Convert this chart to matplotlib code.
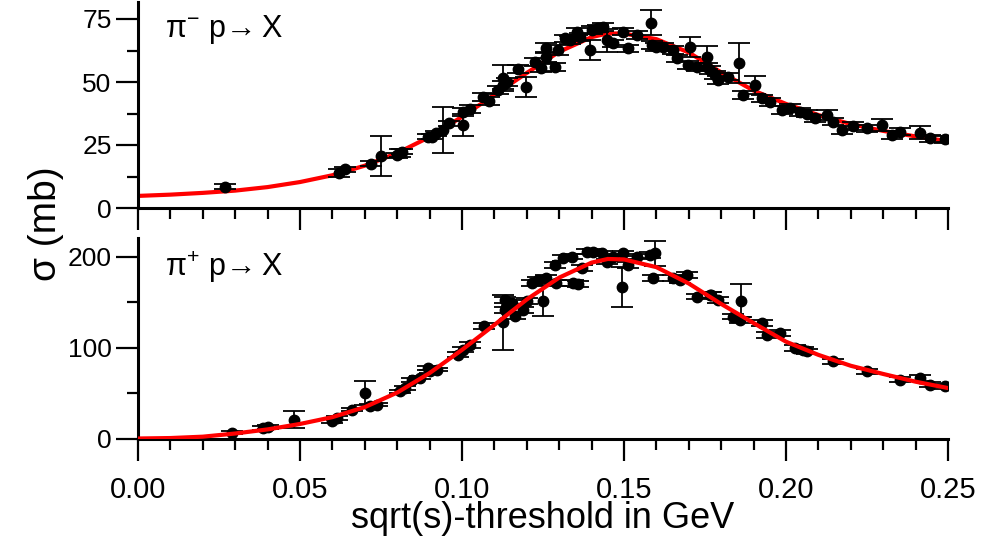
import matplotlib
matplotlib.use("Agg")
import matplotlib.pyplot as plt

plt.rcParams['font.family'] = ['Liberation Sans', 'DejaVu Sans']
plt.rcParams['mathtext.fontset'] = 'custom'
plt.rcParams['mathtext.rm'] = 'Liberation Sans'
plt.rcParams['mathtext.it'] = 'Liberation Sans:italic'

# pi- p -> X data (x in GeV, sigma in mb, error)
xm = [0.027, 0.062, 0.064, 0.072, 0.075, 0.080, 0.081, 0.0815, 0.0895, 0.0907,
      0.092, 0.094, 0.096, 0.1003, 0.1003, 0.1025, 0.1065, 0.1083, 0.111, 0.1127,
      0.1127, 0.1139, 0.1173, 0.1198, 0.1225, 0.1244, 0.126, 0.126, 0.1287, 0.1296,
      0.1318, 0.1333, 0.1354, 0.1364, 0.1395, 0.140, 0.142, 0.1436, 0.1447, 0.1467,
      0.1498, 0.1513, 0.1539, 0.1582, 0.1585, 0.160, 0.1621, 0.1652, 0.1663, 0.1699,
      0.1704, 0.1724, 0.1755, 0.1757, 0.1765, 0.1781, 0.1791, 0.1822, 0.1856, 0.1868,
      0.1904, 0.1925, 0.195, 0.1987, 0.2012, 0.2043, 0.2064, 0.2089, 0.2125, 0.2146,
      0.2172, 0.2208, 0.2249, 0.2295, 0.2326, 0.2352, 0.2414, 0.2444, 0.2491]
ym = [8.4, 13.9, 15.4, 17.5, 20.7, 20.9, 21.8, 22.3, 28.2, 28.3,
      29.6, 30.9, 33.6, 33.0, 38.0, 39.3, 44.1, 42.4, 46.8, 48.8,
      51.6, 50.0, 55.1, 48.0, 57.9, 55.5, 59.9, 63.4, 55.9, 62.6,
      67.3, 66.6, 70.0, 67.9, 62.6, 70.6, 71.3, 71.9, 66.6, 65.3,
      70.0, 63.3, 68.6, 73.6, 64.7, 64.0, 64.0, 62.6, 59.4, 56.7,
      64.0, 56.0, 56.0, 59.8, 54.8, 52.7, 50.8, 52.1, 57.6, 44.8,
      48.8, 43.5, 42.1, 38.9, 39.6, 38.1, 37.5, 35.6, 36.9, 34.3,
      30.9, 32.5, 31.6, 32.9, 29.0, 30.3, 29.9, 27.6, 27.2]
em = [1.0, 1.5, 1.0, 1.0, 8.0, 1.0, 1.5, 1.0, 1.0, 1.0,
      1.0, 9.0, 1.0, 4.4, 1.5, 1.5, 1.5, 1.5, 1.5, 1.5,
      5.0, 1.5, 1.5, 3.9, 1.5, 1.5, 2.0, 2.0, 1.5, 2.0,
      1.5, 1.5, 1.5, 1.5, 4.0, 1.5, 1.5, 1.5, 4.6, 1.5,
      1.5, 1.5, 1.5, 5.1, 1.5, 1.5, 1.5, 1.5, 1.5, 1.5,
      4.0, 1.5, 1.5, 4.6, 1.5, 1.5, 1.5, 1.5, 8.0, 1.5,
      3.5, 1.5, 1.5, 1.5, 1.5, 1.5, 1.5, 1.5, 2.0, 1.5,
      1.5, 1.5, 1.5, 2.5, 1.5, 1.5, 2.5, 1.5, 1.5]

# pi+ p -> X data
xp = [0.0289, 0.0387, 0.040, 0.0481, 0.0598, 0.0613, 0.066, 0.070, 0.0716, 0.0737,
      0.0809, 0.0824, 0.0845, 0.087, 0.0896, 0.0901, 0.0922, 0.0989, 0.1004, 0.1025,
      0.1069, 0.1125, 0.1133, 0.1133, 0.1153, 0.1164, 0.1189, 0.120, 0.1215, 0.1236,
      0.1251, 0.1259, 0.1287, 0.129, 0.1313, 0.1339, 0.1343, 0.1359, 0.1369, 0.1385,
      0.1405, 0.1431, 0.1447, 0.1467, 0.1493, 0.1498, 0.1513, 0.1539, 0.158, 0.159,
      0.1596, 0.1652, 0.1673, 0.1693, 0.1724, 0.1765, 0.177, 0.1791, 0.1837, 0.1858,
      0.186, 0.1925, 0.194, 0.1981, 0.2028, 0.2053, 0.2064, 0.2146, 0.2249, 0.2352,
      0.2414, 0.2444, 0.2491]
yp = [6.3, 11.7, 12.5, 20.9, 19.0, 22.7, 31.8, 50.2, 35.5, 37.4,
      51.9, 55.7, 64.7, 67.0, 77.6, 73.9, 75.8, 92.2, 97.7, 103.0,
      123.9, 127.7, 152.5, 141.4, 149.0, 134.3, 141.4, 151.5, 170.9, 174.5,
      151.5, 176.4, 191.0, 170.9, 198.4, 200.2, 170.9, 169.9, 187.4, 205.6,
      205.6, 203.8, 194.6, 200.2, 167.2, 203.8, 191.0, 200.2, 202.0, 176.4,
      203.8, 176.4, 174.5, 180.1, 156.2, 158.1, 158.1, 152.6, 134.2, 130.6,
      151.8, 127.1, 114.1, 116.0, 99.6, 97.7, 95.8, 84.8, 73.9, 64.7,
      66.7, 59.3, 57.4]
ep = [1.5, 2, 2, 9.5, 2, 2, 2, 13, 2, 2,
      2, 2, 2, 2, 2, 2, 2, 3, 3, 3,
      3, 30, 3, 3, 3, 3, 3, 3, 3, 3,
      17, 3, 3, 3, 3, 3, 3, 3, 3, 3,
      3, 3, 3, 3, 22, 3, 3, 3, 3, 3,
      14, 3, 3, 3, 3, 3, 3, 3, 3, 3,
      18, 3, 3, 3, 3, 3, 3, 3, 3, 3,
      3, 3, 3]

# fitted curves
xfit = [0.0, 0.01, 0.02, 0.03, 0.04, 0.05, 0.06, 0.07, 0.08, 0.09, 0.10, 0.11, 0.12,
        0.13, 0.14, 0.145, 0.15, 0.16, 0.17, 0.18, 0.19, 0.20, 0.21, 0.22, 0.23, 0.24, 0.25]
fit_m = [4.8, 5.3, 6.0, 6.9, 8.3, 10.3, 13.0, 16.8, 21.8, 28.2, 36.2, 44.9, 53.6,
         62.0, 67.8, 69.3, 69.2, 67.0, 61.7, 53.8, 46.6, 41.3, 36.9, 33.3, 30.6, 28.4, 26.5]
fit_p = [0.0, 0.5, 2.0, 5.5, 10.0, 16.0, 23.5, 34.5, 50.5, 72.0, 97.5, 125.0, 153.0,
         177.0, 193.5, 197.5, 197.0, 188.5, 170.5, 148.0, 127.0, 106.5, 92.0, 80.0, 71.0, 62.5, 55.5]

W, H = 981, 543
fig = plt.figure(figsize=(W / 100, H / 100), dpi=100)
ax1 = fig.add_axes([138 / W, 1 - 208 / H, 810 / W, 206 / H])
ax2 = fig.add_axes([138 / W, 1 - 438.5 / H, 810 / W, 200.5 / H])

ebkw = dict(fmt='o', color='black', ms=7.5, ecolor='black', elinewidth=1.3,
            capsize=8, capthick=1.3)

ax1.errorbar(xm, ym, yerr=em, zorder=3, **ebkw)
ax1.plot(xfit, fit_m, color='#ff0000', lw=3, zorder=2)
ax2.errorbar(xp, yp, yerr=ep, zorder=2, **ebkw)
ax2.plot(xfit, fit_p, color='#ff0000', lw=3, zorder=3)

ax1.set_ylim(0, 206 / 2.52)
ax1.set_yticks([0, 25, 50, 75])
ax1.set_yticks([12.5, 37.5, 62.5], minor=True)
ax2.set_ylim(0, 200.5 / 0.909)
ax2.set_yticks([0, 100, 200])
ax2.set_yticks([50, 150], minor=True)

for ax in (ax1, ax2):
    ax.set_xlim(0, 0.25)
    ax.set_xticks([0.0, 0.05, 0.10, 0.15, 0.20, 0.25])
    ax.set_xticks([i / 100 for i in range(26)], minor=True)
    for s in ('top', 'right'):
        ax.spines[s].set_visible(False)
    for s in ('left', 'bottom'):
        ax.spines[s].set_linewidth(2.2)
    ax.tick_params(which='major', direction='out', length=16, width=1.6, pad=3)
    ax.tick_params(which='minor', direction='out', length=8, width=1.6)
    ax.tick_params(axis='x', which='major', pad=11, labelsize=21)
    ax.tick_params(axis='y', which='major', labelsize=19)

ax1.set_xticklabels([])
ax2.set_xticklabels(['0.00', '0.05', '0.10', '0.15', '0.20', '0.25'])

fig.text(543 / W, 1 - 519 / H, 'sqrt(s)-threshold in GeV', ha='center', va='center', fontsize=26)
fig.text(46 / W, 1 - 224 / H, 'σ (mb)', ha='center', va='center', rotation=90, fontsize=28)

ax1.text(165 / W, 1 - 30 / H, r'$\mathregular{\pi^{-}\ p\!\rightarrow X}$',
         transform=fig.transFigure, ha='left', va='center', fontsize=22)
ax2.text(165 / W, 1 - 267 / H, r'$\mathregular{\pi^{+}\ p\!\rightarrow X}$',
         transform=fig.transFigure, ha='left', va='center', fontsize=22)

fig.savefig('out.png', dpi=100)
